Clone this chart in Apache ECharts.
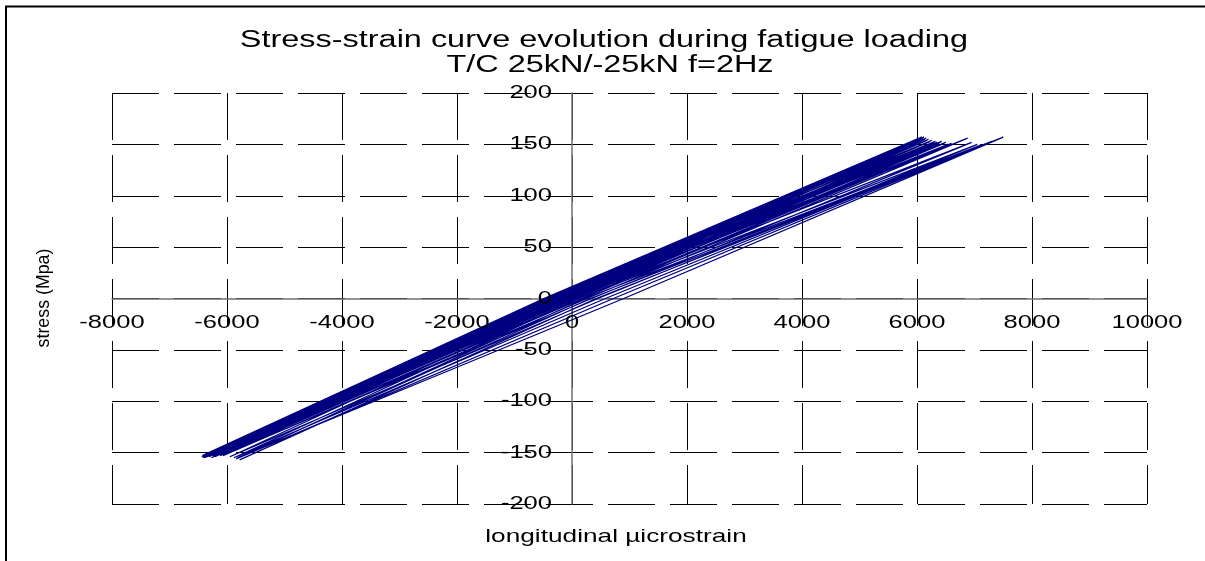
<!DOCTYPE html>
<html>
<head>
<meta charset="utf-8">
<script src="https://cdn.jsdelivr.net/npm/echarts@6.0.0/dist/echarts.min.js"></script>
<style>
html,body{margin:0;padding:0;background:#fff;}
#chart{width:1205px;height:561px;}
</style>
</head>
<body>
<div id="chart"></div>
<script>
// ---- data ----
const titleLines = ['Stress-strain curve evolution during fatigue loading', 'T/C 25kN/-25kN f=2Hz'];
const xAxisName = 'longitudinal \u00b5icrostrain';
const yAxisName = 'stress (Mpa)';
const xTicks = [-8000, -6000, -4000, -2000, 0, 2000, 4000, 6000, 8000, 10000];
const xTickLabels = ['-8000', '-6000', '-4000', '-2000', '0', '2000', '4000', '6000', '8000', '10000'];
const yTicks = [-200, -150, -100, -50, 0, 50, 100, 150, 200];
const yTickLabels = ['-200', '-150', '-100', '-50', '0', '50', '100', '150', '200'];

// compression peaks of each load cycle (strain, stress)
const lowPeakStrain = [-6440, -6430, -6420, -6410, -6400, -6390, -6375, -6360, -6345, -6330,
                       -6310, -6290, -6270, -6240, -6210, -6170, -6120, -6090, -6070, -6040,
                       -5950, -5880, -5840, -5820, -5780];
const lowPeakStress = [-154, -153, -155, -154, -153, -155, -154, -153, -154, -152,
                       -154, -153, -155, -153, -154, -152, -153, -152, -153, -152,
                       -154, -155, -156, -155, -157];
// tension peaks of each load cycle
const highPeakStrain = [6080, 6100, 6120, 6140, 6160, 6180, 6200, 6230, 6260, 6290,
                        6320, 6350, 6390, 6430, 6470, 6500, 6540, 6600, 6880, 6950,
                        7050, 7100, 7300, 7500];
const highPeakStress = [157, 156, 157, 155, 156, 154, 155, 153, 154, 152,
                        153, 152, 151, 153, 151, 152, 150, 151, 156, 152,
                        150, 149, 153, 157];
// strain at zero stress on the loading branch (compression -> tension)
const loadZeroStrain = [-260, -250, -240, -225, -210, -195, -180, -160, -140, -120,
                        -95, -70, -40, -10, 30, 70, 120, 180, 260, 340,
                        450, 580, 720, 900];
// strain at zero stress on the unloading branch (tension -> compression)
const unloadZeroStrain = [-490, -480, -470, -460, -450, -440, -425, -410, -395, -380,
                          -360, -340, -315, -290, -260, -220, -180, -130, -60, 20,
                          120, 220, 320, 420];

// ---- build the stress-strain path ----
const path = [];
for (let i = 0; i < highPeakStrain.length; i++) {
  path.push([lowPeakStrain[i], lowPeakStress[i]]);
  path.push([loadZeroStrain[i], 0]);
  path.push([highPeakStrain[i], highPeakStress[i]]);
  path.push([unloadZeroStrain[i], 0]);
}
path.push([lowPeakStrain[lowPeakStrain.length - 1], lowPeakStress[lowPeakStress.length - 1]]);

const FONT = '"Liberation Sans", Arial, Helvetica, sans-serif';
const SX = 1.38;

const chart = echarts.init(document.getElementById('chart'), null, {renderer: 'canvas'});

const gridDash = {color: '#000', width: 1, type: [47, 15], dashOffset: 0};

const option = {
  backgroundColor: '#fff',
  animation: false,
  grid: {left: 112, right: 58, top: 93, bottom: 57, containLabel: false},
  xAxis: {
    type: 'value', min: -8000, max: 10000, interval: 2000,
    axisLine: {show: true, onZero: true, lineStyle: {color: '#707070', width: 1.5}},
    axisTick: {show: false},
    axisLabel: {show: false},
    splitLine: {show: true, lineStyle: gridDash}
  },
  yAxis: {
    type: 'value', min: -200, max: 200, interval: 50,
    axisLine: {show: true, onZero: true, lineStyle: {color: '#707070', width: 1.5}},
    axisTick: {show: false},
    axisLabel: {show: false},
    splitLine: {show: true, lineStyle: gridDash}
  },
  graphic: [
    {type: 'rect', silent: true, shape: {x: 6, y: 6.5, width: 1400, height: 800},
     style: {fill: 'none', stroke: '#000', lineWidth: 2}, z: 100},
    {type: 'text', x: 604, y: 41, scaleX: SX, silent: true, z: 100,
     style: {legacy: false, text: titleLines[0], fontSize: 23.5, fontFamily: FONT, fill: '#000', align: 'center', verticalAlign: 'middle'}},
    {type: 'text', x: 610, y: 66, scaleX: SX, silent: true, z: 100,
     style: {legacy: false, text: titleLines[1], fontSize: 23.5, fontFamily: FONT, fill: '#000', align: 'center', verticalAlign: 'middle'}},
    {type: 'text', x: 616, y: 537, scaleX: SX, silent: true, z: 100,
     style: {legacy: false, text: xAxisName, fontSize: 19, fontFamily: FONT, fill: '#000', align: 'center', verticalAlign: 'middle'}},
    {type: 'text', x: 44, y: 298, rotation: Math.PI / 2, silent: true, z: 100,
     style: {legacy: false, text: yAxisName, fontSize: 17.8, fontFamily: FONT, fill: '#000', align: 'center', verticalAlign: 'middle'}}
  ],
  series: [
    {
      type: 'line', data: path, showSymbol: false, symbol: 'none', smooth: false,
      lineStyle: {color: '#000080', width: 1.3}, z: 3, silent: true
    },
    {
      type: 'custom', coordinateSystem: 'cartesian2d', clip: false, silent: true, z: 10,
      data: xTicks.map(v => [v, 0]),
      renderItem: function (params, api) {
        const p = api.coord([api.value(0), api.value(1)]);
        return {
          type: 'text', x: p[0], y: p[1] + 24, scaleX: SX,
          style: {legacy: false, text: xTickLabels[params.dataIndex], fontSize: 18.5, fontFamily: FONT,
                  fill: '#000', align: 'center', verticalAlign: 'middle'}
        };
      }
    },
    {
      type: 'custom', coordinateSystem: 'cartesian2d', clip: false, silent: true, z: 10,
      data: yTicks.map(v => [0, v]),
      renderItem: function (params, api) {
        const p = api.coord([api.value(0), api.value(1)]);
        return {
          type: 'text', x: p[0] - 20, y: p[1], scaleX: SX,
          style: {legacy: false, text: yTickLabels[params.dataIndex], fontSize: 18.5, fontFamily: FONT,
                  fill: '#000', align: 'right', verticalAlign: 'middle'}
        };
      }
    }
  ]
};
chart.setOption(option);
</script>
</body>
</html>
